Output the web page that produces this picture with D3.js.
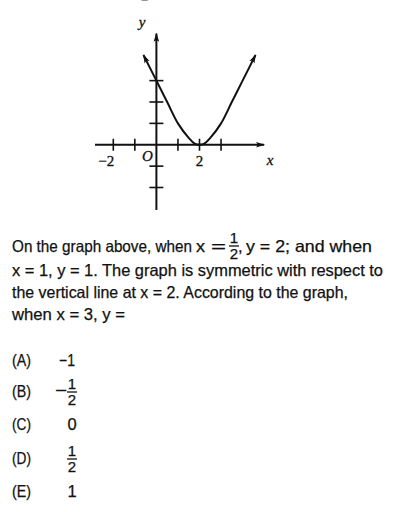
<!DOCTYPE html>
<html><head><meta charset="utf-8">
<script src="https://cdn.jsdelivr.net/npm/d3@7"></script>
<style>
body{margin:0;background:#fff;}
svg{display:block;}
.t{font-family:"Liberation Sans","Arimo",sans-serif;font-size:16.5px;fill:#111;stroke:#111;stroke-width:0.25;}
.s{font-family:"Liberation Serif","Tinos","Times New Roman","DejaVu Serif",serif;font-size:15px;fill:#111;stroke:#111;stroke-width:0.3;}
.i{font-style:italic;}
</style></head>
<body>
<script>
// ---- data ----
const curveX = [-0.6, 0, 0.5, 1, 1.5, 1.8, 2, 2.2, 2.5, 3, 3.5, 4, 4.6];
const curveY = [4.2, 3, 2, 1, 0.32, 0.04, 0, 0.04, 0.32, 1, 2, 3, 4.2];
const xTickValues = [-2, -1, 1, 2, 3];
const yTickValues = [-2, -1, 1, 2, 3];
const xTickLabels = [{v:-2, t:"\u22122", dx:-7}, {v:2, t:"2", dx:0}];
const yTickLabels = [{v:2, t:"2"}, {v:-2, t:"\u22122"}];
const textLines = [
  "x = 1, y = 1. The graph is symmetric with respect to",
  "the vertical line at x = 2. According to the graph,",
  "when x = 3, y ="
];
const textWidths = [371, 336, 113];
const choiceLabels = ["(A)", "(B)", "(C)", "(D)", "(E)"];
const choiceValues = ["\u22121", "-1/2", "0", "1/2", "1"];

const W = 400, H = 512;
const svg = d3.select("body").append("svg").attr("width", W).attr("height", H);
const defs = svg.append("defs");
defs.append("marker").attr("id","arr").attr("viewBox","0 0 10 10").attr("refX",9).attr("refY",5)
  .attr("markerWidth",9).attr("markerHeight",7).attr("orient","auto-start-reverse").attr("markerUnits","userSpaceOnUse")
  .attr("preserveAspectRatio","none")
  .append("path").attr("d","M0,1 L10,5 L0,9 L2,5 Z").attr("fill","#111");

const x = d3.scaleLinear().domain([-2, 2]).range([113.3, 199.5]);
const y = d3.scaleLinear().domain([-2, 2]).range([187.5, 102]);
const g = svg.append("g");

// axes
g.append("line").attr("x1", x(-2.85)).attr("x2", x(5.0)).attr("y1", y(0)).attr("y2", y(0))
  .attr("stroke","#111").attr("stroke-width",2).attr("marker-end","url(#arr)");
g.append("line").attr("x1", x(0)).attr("x2", x(0)).attr("y1", y(-3.05)).attr("y2", y(5.2))
  .attr("stroke","#111").attr("stroke-width",2).attr("marker-end","url(#arr)");

g.selectAll(".xt").data(xTickValues).join("line")
  .attr("x1", d=>x(d)).attr("x2", d=>x(d)).attr("y1", y(0)-6).attr("y2", y(0)+6)
  .attr("stroke","#111").attr("stroke-width",1.6);
g.selectAll(".yt").data(yTickValues).join("line")
  .attr("x1", x(0)-7).attr("x2", x(0)+7).attr("y1", d=>y(d)).attr("y2", d=>y(d))
  .attr("stroke","#111").attr("stroke-width",1.6);

g.selectAll(".xl").data(xTickLabels).join("text").attr("class","s")
  .attr("x", d=>x(d.v)+d.dx).attr("y", y(0)+21).attr("text-anchor","middle").text(d=>d.t);
g.selectAll(".yl").data(yTickLabels).join("text").attr("class","s")
  .attr("x", x(0)-8).attr("y", d=>y(d)+6).attr("text-anchor","end").text(d=>d.t);
g.append("text").attr("class","s i").attr("x", x(0)-9).attr("y", y(0)+16).attr("text-anchor","middle").text("O");
g.append("text").attr("class","s i").attr("x", 142).attr("y", 27).attr("text-anchor","middle").text("y");
g.append("text").attr("class","s i").attr("x", 270).attr("y", y(0)+20).attr("text-anchor","middle").text("x");

// curve
const pts = curveX.map((v,i)=>[v, curveY[i]]);
g.append("path").datum(pts)
  .attr("d", d3.line().x(d=>x(d[0])).y(d=>y(d[1])).curve(d3.curveCatmullRom.alpha(0.5)))
  .attr("fill","none").attr("stroke","#111").attr("stroke-width",2)
  .attr("marker-start","url(#arr)").attr("marker-end","url(#arr)");

// ---- text ----
function frac(xc, yb, num, den){
  svg.append("text").attr("class","t").style("font-size","15px").attr("x",xc).attr("y",yb-8).attr("text-anchor","middle").text(num);
  svg.append("text").attr("class","t").style("font-size","15px").attr("x",xc).attr("y",yb+8).attr("text-anchor","middle").text(den);
  svg.append("line").attr("x1",xc-5).attr("x2",xc+5).attr("y1",yb-5).attr("y2",yb-5).attr("stroke","#111").attr("stroke-width",1.3);
}
const tline = (xp, yb, s, w) => {
  const t = svg.append("text").attr("class","t").attr("x",xp).attr("y",yb).text(s);
  if (w) t.attr("textLength", w).attr("lengthAdjust","spacingAndGlyphs");
  return t;
};

tline(12, 252, "On the graph above, when", 180);
tline(196, 252, "x", 9);
tline(211, 252, "=", 15);
frac(234, 251, "1", "2");
tline(238, 252, ",");
tline(246, 252, "y = 2; and when", 126);
const lineY = [276, 298, 320];
textLines.forEach((s,i)=> tline(12, lineY[i], s, textWidths[i]));

const choiceY = [366, 397, 430, 464, 497];
choiceLabels.forEach((c,i)=>{
  tline(12, choiceY[i], c, 19);
  const v = choiceValues[i];
  if (v === "-1/2") { tline(55, choiceY[i]-1, "\u2212", 12); frac(72, choiceY[i], "1", "2"); }
  else if (v === "1/2") { frac(72, choiceY[i], "1", "2"); }
  else if (v === "\u22121") { tline(59, choiceY[i], v, 16); }
  else svg.append("text").attr("class","t").attr("x", 72).attr("y", choiceY[i]).attr("text-anchor","middle").text(v);
});
</script>
</body></html>
